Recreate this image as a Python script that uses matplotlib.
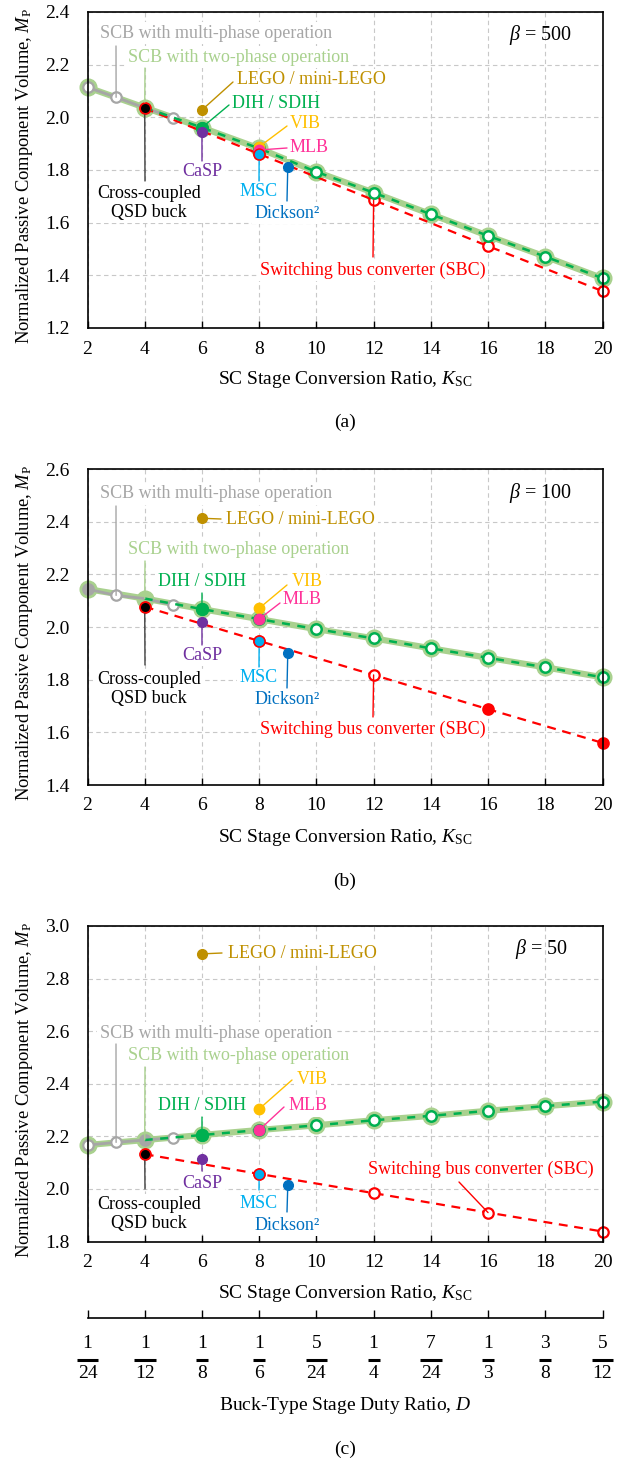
import matplotlib
matplotlib.use('Agg')
import matplotlib.pyplot as plt
from matplotlib.lines import Line2D
import numpy as np

plt.rcParams['font.family'] = ['Liberation Serif', 'DejaVu Serif']
plt.rcParams['mathtext.fontset'] = 'custom'
plt.rcParams['mathtext.rm'] = 'Liberation Serif'
plt.rcParams['mathtext.it'] = 'Liberation Serif:italic'
plt.rcParams['mathtext.bf'] = 'Liberation Serif:bold'

# ---------------- data ----------------
K_two = [2, 4, 6, 8, 10, 12, 14, 16, 18, 20]
K_multi = [2, 3, 4, 5]
K_sbc = [4, 8, 12, 16, 20]
x_ticks = [2, 4, 6, 8, 10, 12, 14, 16, 18, 20]

betas = [500, 100, 50]

two_a = [2.114, 2.037, 1.961, 1.882, 1.793, 1.714, 1.632, 1.550, 1.471, 1.389]
two_b = [2.144, 2.108, 2.068, 2.030, 1.992, 1.957, 1.919, 1.883, 1.847, 1.809]
two_c = [2.167, 2.186, 2.205, 2.224, 2.242, 2.261, 2.278, 2.297, 2.315, 2.332]

multi_a = [2.114, 2.076, 2.036, 1.999]
multi_b = [2.144, 2.120, 2.108, 2.083]
multi_c = [2.167, 2.177, 2.186, 2.195]

sbc_a = [2.034, 1.861, 1.686, 1.511, 1.340]
sbc_b = [2.077, 1.947, 1.818, 1.688, 1.560]
sbc_c = [2.132, 2.057, 1.984, 1.910, 1.838]

K_qsd, K_lego, K_casp, K_dih, K_vib, K_mlb, K_msc, K_dick = 4, 6, 6, 6, 8, 8, 8, 9
qsd_vals = [2.034, 2.077, 2.132]
lego_vals = [2.028, 2.413, 2.894]
casp_vals = [1.945, 2.020, 2.113]
dih_vals = [1.961, 2.068, 2.205]
vib_vals = [1.888, 2.071, 2.304]
mlb_vals = [1.876, 2.030, 2.224]
msc_vals = [1.861, 1.947, 2.057]
dick_vals = [1.813, 1.902, 2.013]

D_num = ['1', '1', '1', '1', '5', '1', '7', '1', '3', '5']
D_den = ['24', '12', '8', '6', '24', '4', '24', '3', '8', '12']

# ---------------- style ----------------
LG = '#a9d18e'; DG = '#00b050'; GR = '#a6a6a6'; RD = '#ff0000'
C_LEGO = '#bf9000'; C_VIB = '#ffc000'; C_MLB = '#ff3399'
C_MSC = '#00b0f0'; C_DK = '#0070c0'; C_CASP = '#7030a0'; C_QSD = '#000000'

W, H = 628, 1463
L, R = 87.5, 602.5
fig = plt.figure(figsize=(W / 100, H / 100), dpi=100)


def P(px, py):
    return (px, H - py)


panels = [
    dict(top=12, bot=328, ylim=(1.2, 2.4), two=two_a, multi=multi_a, sbc=sbc_a,
         multi_fc=['white', 'white', None, 'white'],
         sbc_fc=['white'] * 5, tag='(a)', tag_y=422, beta_xy=(541, 35)),
    dict(top=469, bot=785, ylim=(1.4, 2.6), two=two_b, multi=multi_b, sbc=sbc_b,
         multi_fc=[GR, 'white', None, 'white'],
         sbc_fc=['white', 'white', 'white', RD, RD], tag='(b)', tag_y=881, beta_xy=(541, 493)),
    dict(top=926, bot=1241.5, ylim=(1.8, 3.0), two=two_c, multi=multi_c, sbc=sbc_c,
         multi_fc=['white', 'white', GR, 'white'],
         sbc_fc=['white'] * 5, tag='(c)', tag_y=1449, beta_xy=(542, 949)),
]

# label layouts: (text, color, ha, text_px, leader_from (K, val), leader_to_px)
layouts = [
    [
        ('SCB with multi-phase operation', GR, 'left', (100, 33), (3, multi_a[1]), (116, 46)),
        ('SCB with two-phase operation', LG, 'left', (128, 57), (4, two_a[1]), (145, 68)),
        ('LEGO / mini-LEGO', C_LEGO, 'left', (237, 80), (K_lego, lego_vals[0]), (233, 82)),
        ('DIH / SDIH', DG, 'left', (232, 103), (K_dih, dih_vals[0]), (229, 105)),
        ('VIB', C_VIB, 'left', (290, 123), (K_vib, vib_vals[0]), (287, 126)),
        ('MLB', C_MLB, 'left', (290, 148), (K_mlb, mlb_vals[0]), (287, 148)),
        ('CaSP', C_CASP, 'center', (202, 172), (K_casp, casp_vals[0]), (202, 161)),
        ('Cross-coupled\nQSD buck', C_QSD, 'center', (149, 203), (K_qsd, qsd_vals[0]), (145, 181)),
        ('MSC', C_MSC, 'center', (259, 192), (K_msc, msc_vals[0]), (259, 181)),
        ('Dickson\u00b2', C_DK, 'center', (287, 213), (K_dick, dick_vals[0]), (287, 201)),
        ('Switching bus converter (SBC)', RD, 'left', (260, 270), (12, sbc_a[2]), (373, 257)),
    ],
    [
        ('SCB with multi-phase operation', GR, 'left', (100, 494), (3, multi_b[1]), (116, 506)),
        ('LEGO / mini-LEGO', C_LEGO, 'left', (226, 519), (K_lego, lego_vals[1]), (221, 519)),
        ('SCB with two-phase operation', LG, 'left', (128, 549), (4, two_b[1]), (145, 561)),
        ('DIH / SDIH', DG, 'center', (202, 582), (K_dih, dih_vals[1]), (202, 593)),
        ('VIB', C_VIB, 'left', (292, 582), (K_vib, vib_vals[1]), (287, 585)),
        ('MLB', C_MLB, 'left', (283, 600), (K_mlb, mlb_vals[1]), (280, 603)),
        ('CaSP', C_CASP, 'center', (202, 655), (K_casp, casp_vals[1]), (202, 645)),
        ('Cross-coupled\nQSD buck', C_QSD, 'center', (149, 689), (K_qsd, qsd_vals[1]), (145, 665)),
        ('MSC', C_MSC, 'center', (259, 678), (K_msc, msc_vals[1]), (259, 667)),
        ('Dickson\u00b2', C_DK, 'center', (287, 699), (K_dick, dick_vals[1]), (287, 688)),
        ('Switching bus converter (SBC)', RD, 'left', (260, 729), (12, sbc_b[2]), (373, 717)),
    ],
    [
        ('LEGO / mini-LEGO', C_LEGO, 'left', (228, 953), (K_lego, lego_vals[2]), (222, 953)),
        ('SCB with multi-phase operation', GR, 'left', (100, 1033), (3, multi_c[1]), (116, 1044)),
        ('SCB with two-phase operation', LG, 'left', (128, 1055), (4, two_c[1]), (145, 1067)),
        ('VIB', C_VIB, 'left', (297, 1079), (K_vib, vib_vals[2]), (292, 1080)),
        ('DIH / SDIH', DG, 'center', (202, 1106), (K_dih, dih_vals[2]), (202, 1117)),
        ('MLB', C_MLB, 'left', (289, 1106), (K_mlb, mlb_vals[2]), (284, 1107)),
        ('CaSP', C_CASP, 'center', (202, 1183), (K_casp, casp_vals[2]), (202, 1171)),
        ('Cross-coupled\nQSD buck', C_QSD, 'center', (149, 1214), (K_qsd, qsd_vals[2]), (145, 1189)),
        ('MSC', C_MSC, 'center', (259, 1204), (K_msc, msc_vals[2]), (259, 1190)),
        ('Dickson\u00b2', C_DK, 'center', (287, 1225), (K_dick, dick_vals[2]), (287, 1212)),
        ('Switching bus converter (SBC)', RD, 'left', (368, 1169), (16, sbc_c[3]), (459, 1182)),
    ],
]

FS_TICK = 14
FS_ANN = 13

for i, cfg in enumerate(panels):
    top, bot = cfg['top'], cfg['bot']
    ax = fig.add_axes([L / W, (H - bot) / H, (R - L) / W, (bot - top) / H])
    ax.set_xlim(2, 20)
    y0, y1 = cfg['ylim']
    ax.set_ylim(y0, y1)
    ax.set_xticks(x_ticks)
    ax.set_yticks(np.round(np.arange(y0, y1 + 0.001, 0.2), 1))
    ax.yaxis.set_major_formatter(matplotlib.ticker.FormatStrFormatter('%.1f'))
    ax.grid(True, color='#c8c8c8', ls=(0, (4, 3)), lw=0.8)
    ax.set_axisbelow(True)
    ax.tick_params(axis='x', direction='in', length=5, width=1, pad=9, labelsize=FS_TICK)
    ax.tick_params(axis='y', length=0, pad=13, labelsize=FS_TICK)
    for s in ax.spines.values():
        s.set_linewidth(1.2)
        s.set_zorder(10)

    two, multi, sbc = cfg['two'], cfg['multi'], cfg['sbc']
    # SCB two-phase (light green band + halos)
    ax.plot(K_two, two, color=LG, lw=4.5, zorder=2, clip_on=False)
    ax.plot(K_two, two, ls='none', marker='o', ms=12, mfc=LG, mec=LG, zorder=2.1, clip_on=False)
    # SCB multi-phase (gray)
    ax.plot(K_multi, multi, color=GR, lw=2, zorder=3, clip_on=False)
    for k, v, fc in zip(K_multi, multi, cfg['multi_fc']):
        if fc is not None:
            ax.plot(k, v, 'o', ms=7.5, mfc=fc, mec=GR, mew=1.6, zorder=3.1, clip_on=False)
    # SBC (red dashed)
    ax.plot(K_sbc, sbc, color=RD, lw=1.6, ls=(0, (4, 3)), zorder=3.5, clip_on=False)
    for k, v, fc in zip(K_sbc, sbc, cfg['sbc_fc']):
        ax.plot(k, v, 'o', ms=7.5, mfc=fc, mec=RD, mew=1.6, zorder=3.6, clip_on=False)
    # DIH family (dark green dashed)
    ax.plot(K_two[1:], two[1:], color=DG, lw=1.8, ls=(0, (3.2, 3)), zorder=4, clip_on=False)
    ax.plot(K_two[2:], two[2:], ls='none', marker='o', ms=7.5, mfc='white', mec=DG, mew=1.8,
            zorder=4.1, clip_on=False)

    # individual designs
    ax.plot(K_dih, dih_vals[i], 'o', ms=8.5, mfc=DG, mec=DG, zorder=6)
    ax.plot(K_lego, lego_vals[i], 'o', ms=7, mfc=C_LEGO, mec=C_LEGO, zorder=6)
    ax.plot(K_casp, casp_vals[i], 'o', ms=7, mfc=C_CASP, mec=C_CASP, zorder=6)
    ax.plot(K_qsd, qsd_vals[i], 'o', ms=7.5, mfc=C_QSD, mec=RD, mew=1, zorder=6)
    ax.plot(K_vib, vib_vals[i], 'o', ms=7.5, mfc=C_VIB, mec=C_VIB, zorder=6)
    ax.plot(K_mlb, mlb_vals[i], 'o', ms=7.5, mfc=C_MLB, mec=C_MLB, zorder=6.1)
    ax.plot(K_msc, msc_vals[i], 'o', ms=7.8, mfc=C_MSC, mec=RD, mew=1, zorder=6.2)
    ax.plot(K_dick, dick_vals[i], 'o', ms=7, mfc=C_DK, mec=C_DK, zorder=6)

    # labels and leaders
    for text, col, ha, tpos, lfrom, lto in layouts[i]:
        ax.annotate('', xy=lfrom, xycoords='data', xytext=P(*lto), textcoords='figure pixels',
                    arrowprops=dict(arrowstyle='-', color=('#404040' if col == C_QSD else col),
                                    lw=1.0, shrinkA=0, shrinkB=0), zorder=5)
        ax.annotate(text, xy=P(*tpos), xycoords='figure pixels', ha=ha, va='center',
                    color=col, fontsize=FS_ANN, linespacing=1.1, zorder=4.5,
                    bbox=dict(boxstyle='square,pad=0.15', fc='white', ec='none'))

    bx, by = cfg['beta_xy']
    fig.text(bx / W, 1 - by / H, r'$\beta$ = %d' % betas[i], ha='center', va='center', fontsize=14.5)

    # axis labels
    axc = (top + bot) / 2 + 6
    fig.text(25 / W, 1 - axc / H, r'Normalized Passive Component Volume, $M_\mathrm{P}$',
             rotation=90, ha='center', va='center', fontsize=13.3)
    fig.text((L + R) / 2 / W, 1 - (bot + 52) / H, r'SC Stage Conversion Ratio, $K_\mathrm{SC}$',
             ha='center', va='center', fontsize=FS_TICK)
    fig.text((L + R) / 2 / W, 1 - cfg['tag_y'] / H, cfg['tag'], ha='center', va='center',
             fontsize=FS_TICK)

# secondary duty ratio axis under (c)
line_y = 1318
ax2 = fig.add_axes([L / W, (H - line_y) / H, (R - L) / W, 20 / H], facecolor='none')
ax2.set_xlim(2, 20)
ax2.set_ylim(0, 1)
for s in ['top', 'left', 'right']:
    ax2.spines[s].set_visible(False)
ax2.spines['bottom'].set_linewidth(1.2)
ax2.set_yticks([])
ax2.set_xticks(x_ticks)
ax2.set_xticklabels([])
ax2.tick_params(axis='x', direction='in', length=6, width=1)

num_texts, den_texts = [], []
for k, n, d in zip(x_ticks, D_num, D_den):
    t1 = ax2.annotate(n, xy=(k, H - 1343.5), xycoords=('data', 'figure pixels'),
                      ha='center', va='center', fontsize=FS_TICK, annotation_clip=False)
    t2 = ax2.annotate(d, xy=(k, H - 1373.5), xycoords=('data', 'figure pixels'),
                      ha='center', va='center', fontsize=FS_TICK, annotation_clip=False)
    num_texts.append(t1)
    den_texts.append(t2)

fig.text((L + R) / 2 / W, 1 - 1405 / H, r'Buck-Type Stage Duty Ratio, $D$',
         ha='center', va='center', fontsize=FS_TICK)

fig.canvas.draw()
rend = fig.canvas.get_renderer()
for k, t1, t2 in zip(x_ticks, num_texts, den_texts):
    w = max(t1.get_window_extent(rend).width, t2.get_window_extent(rend).width)
    xc = ax2.transData.transform((k, 0))[0]
    fig.add_artist(Line2D([xc - w / 2 - 1, xc + w / 2 + 1], [H - 1359.5, H - 1359.5],
                          transform=None, color='black', lw=2.2, solid_capstyle='butt'))

fig.savefig('out.png', dpi=100)
